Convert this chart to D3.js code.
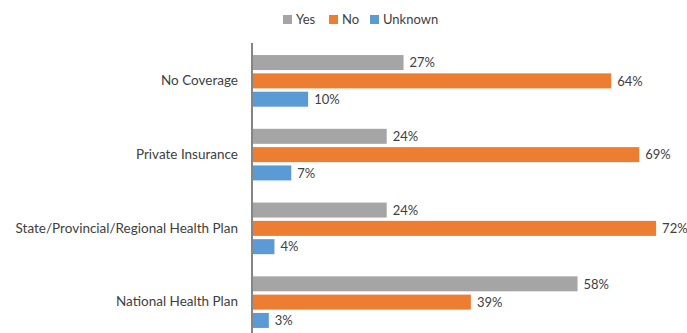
<!DOCTYPE html>
<html>
<head>
<meta charset="utf-8">
<script src="https://cdn.jsdelivr.net/npm/d3@7"></script>
<style>
  html, body { margin: 0; padding: 0; background: #fff; }
  svg { display: block; }
  text { font-family: Lato, "Open Sans", sans-serif; fill: #404040; }
</style>
</head>
<body>
<svg id="chart" width="687" height="333"></svg>
<script>
// Coverage types and survey answer shares (percent)
const categories = ["No Coverage", "Private Insurance", "State/Provincial/Regional Health Plan", "National Health Plan"];
const seriesNames = ["Yes", "No", "Unknown"];
const yesValues = [27, 24, 24, 58];
const noValues = [64, 69, 72, 39];
const unknownValues = [10, 7, 4, 3];
const seriesColors = ["#A5A5A5", "#ED7D31", "#5B9BD5"];

const seriesValues = [yesValues, noValues, unknownValues];

const svg = d3.select("#chart");
const axisX = 252;

const x = d3.scaleLinear().domain([0, 80]).range([axisX, axisX + 449]);

const y = d3.scaleBand()
  .domain(categories)
  .range([44, 339])
  .paddingInner(0.3)
  .paddingOuter(0.15);

const ySub = d3.scaleBand()
  .domain(seriesNames)
  .range([0, y.bandwidth()])
  .paddingInner(0.18);

const color = d3.scaleOrdinal().domain(seriesNames).range(seriesColors);

// Grouped bars
const rows = categories.map((c, i) => ({
  category: c,
  values: seriesNames.map((s, j) => ({ series: s, value: seriesValues[j][i] }))
}));

const groups = svg.append("g").selectAll("g")
  .data(rows)
  .join("g")
  .attr("transform", d => `translate(0,${y(d.category)})`);

groups.selectAll("rect")
  .data(d => d.values)
  .join("rect")
  .attr("x", x(0))
  .attr("y", d => ySub(d.series))
  .attr("width", d => x(d.value) - x(0))
  .attr("height", ySub.bandwidth())
  .attr("fill", d => color(d.series));

groups.selectAll("text.value")
  .data(d => d.values)
  .join("text")
  .attr("class", "value")
  .attr("x", d => x(d.value) + 6)
  .attr("y", d => ySub(d.series) + ySub.bandwidth() / 2)
  .attr("dy", "0.36em")
  .attr("font-size", 13)
  .text(d => d.value + "%");

// Category axis
const yAxis = d3.axisLeft(y).tickSize(0).tickPadding(14);
const axisG = svg.append("g")
  .attr("transform", `translate(${axisX},0)`)
  .call(yAxis);
axisG.select(".domain").remove();
axisG.selectAll("text")
  .attr("font-size", 13.5)
  .attr("font-family", "Lato, 'Open Sans', sans-serif")
  .attr("fill", "#404040");

svg.append("line")
  .attr("x1", axisX).attr("x2", axisX)
  .attr("y1", 43).attr("y2", 333)
  .attr("stroke", "#858585")
  .attr("stroke-width", 2);

// Legend
const legendItems = [
  { name: "Yes", x: 283 },
  { name: "No", x: 329 },
  { name: "Unknown", x: 370 }
];
const legend = svg.append("g").selectAll("g")
  .data(legendItems)
  .join("g")
  .attr("transform", d => `translate(${d.x},15)`);
legend.append("rect")
  .attr("width", 9).attr("height", 9)
  .attr("fill", d => color(d.name));
legend.append("text")
  .attr("x", 13).attr("y", 4.5)
  .attr("dy", "0.36em")
  .attr("font-size", 13)
  .text(d => d.name);
</script>
</body>
</html>
